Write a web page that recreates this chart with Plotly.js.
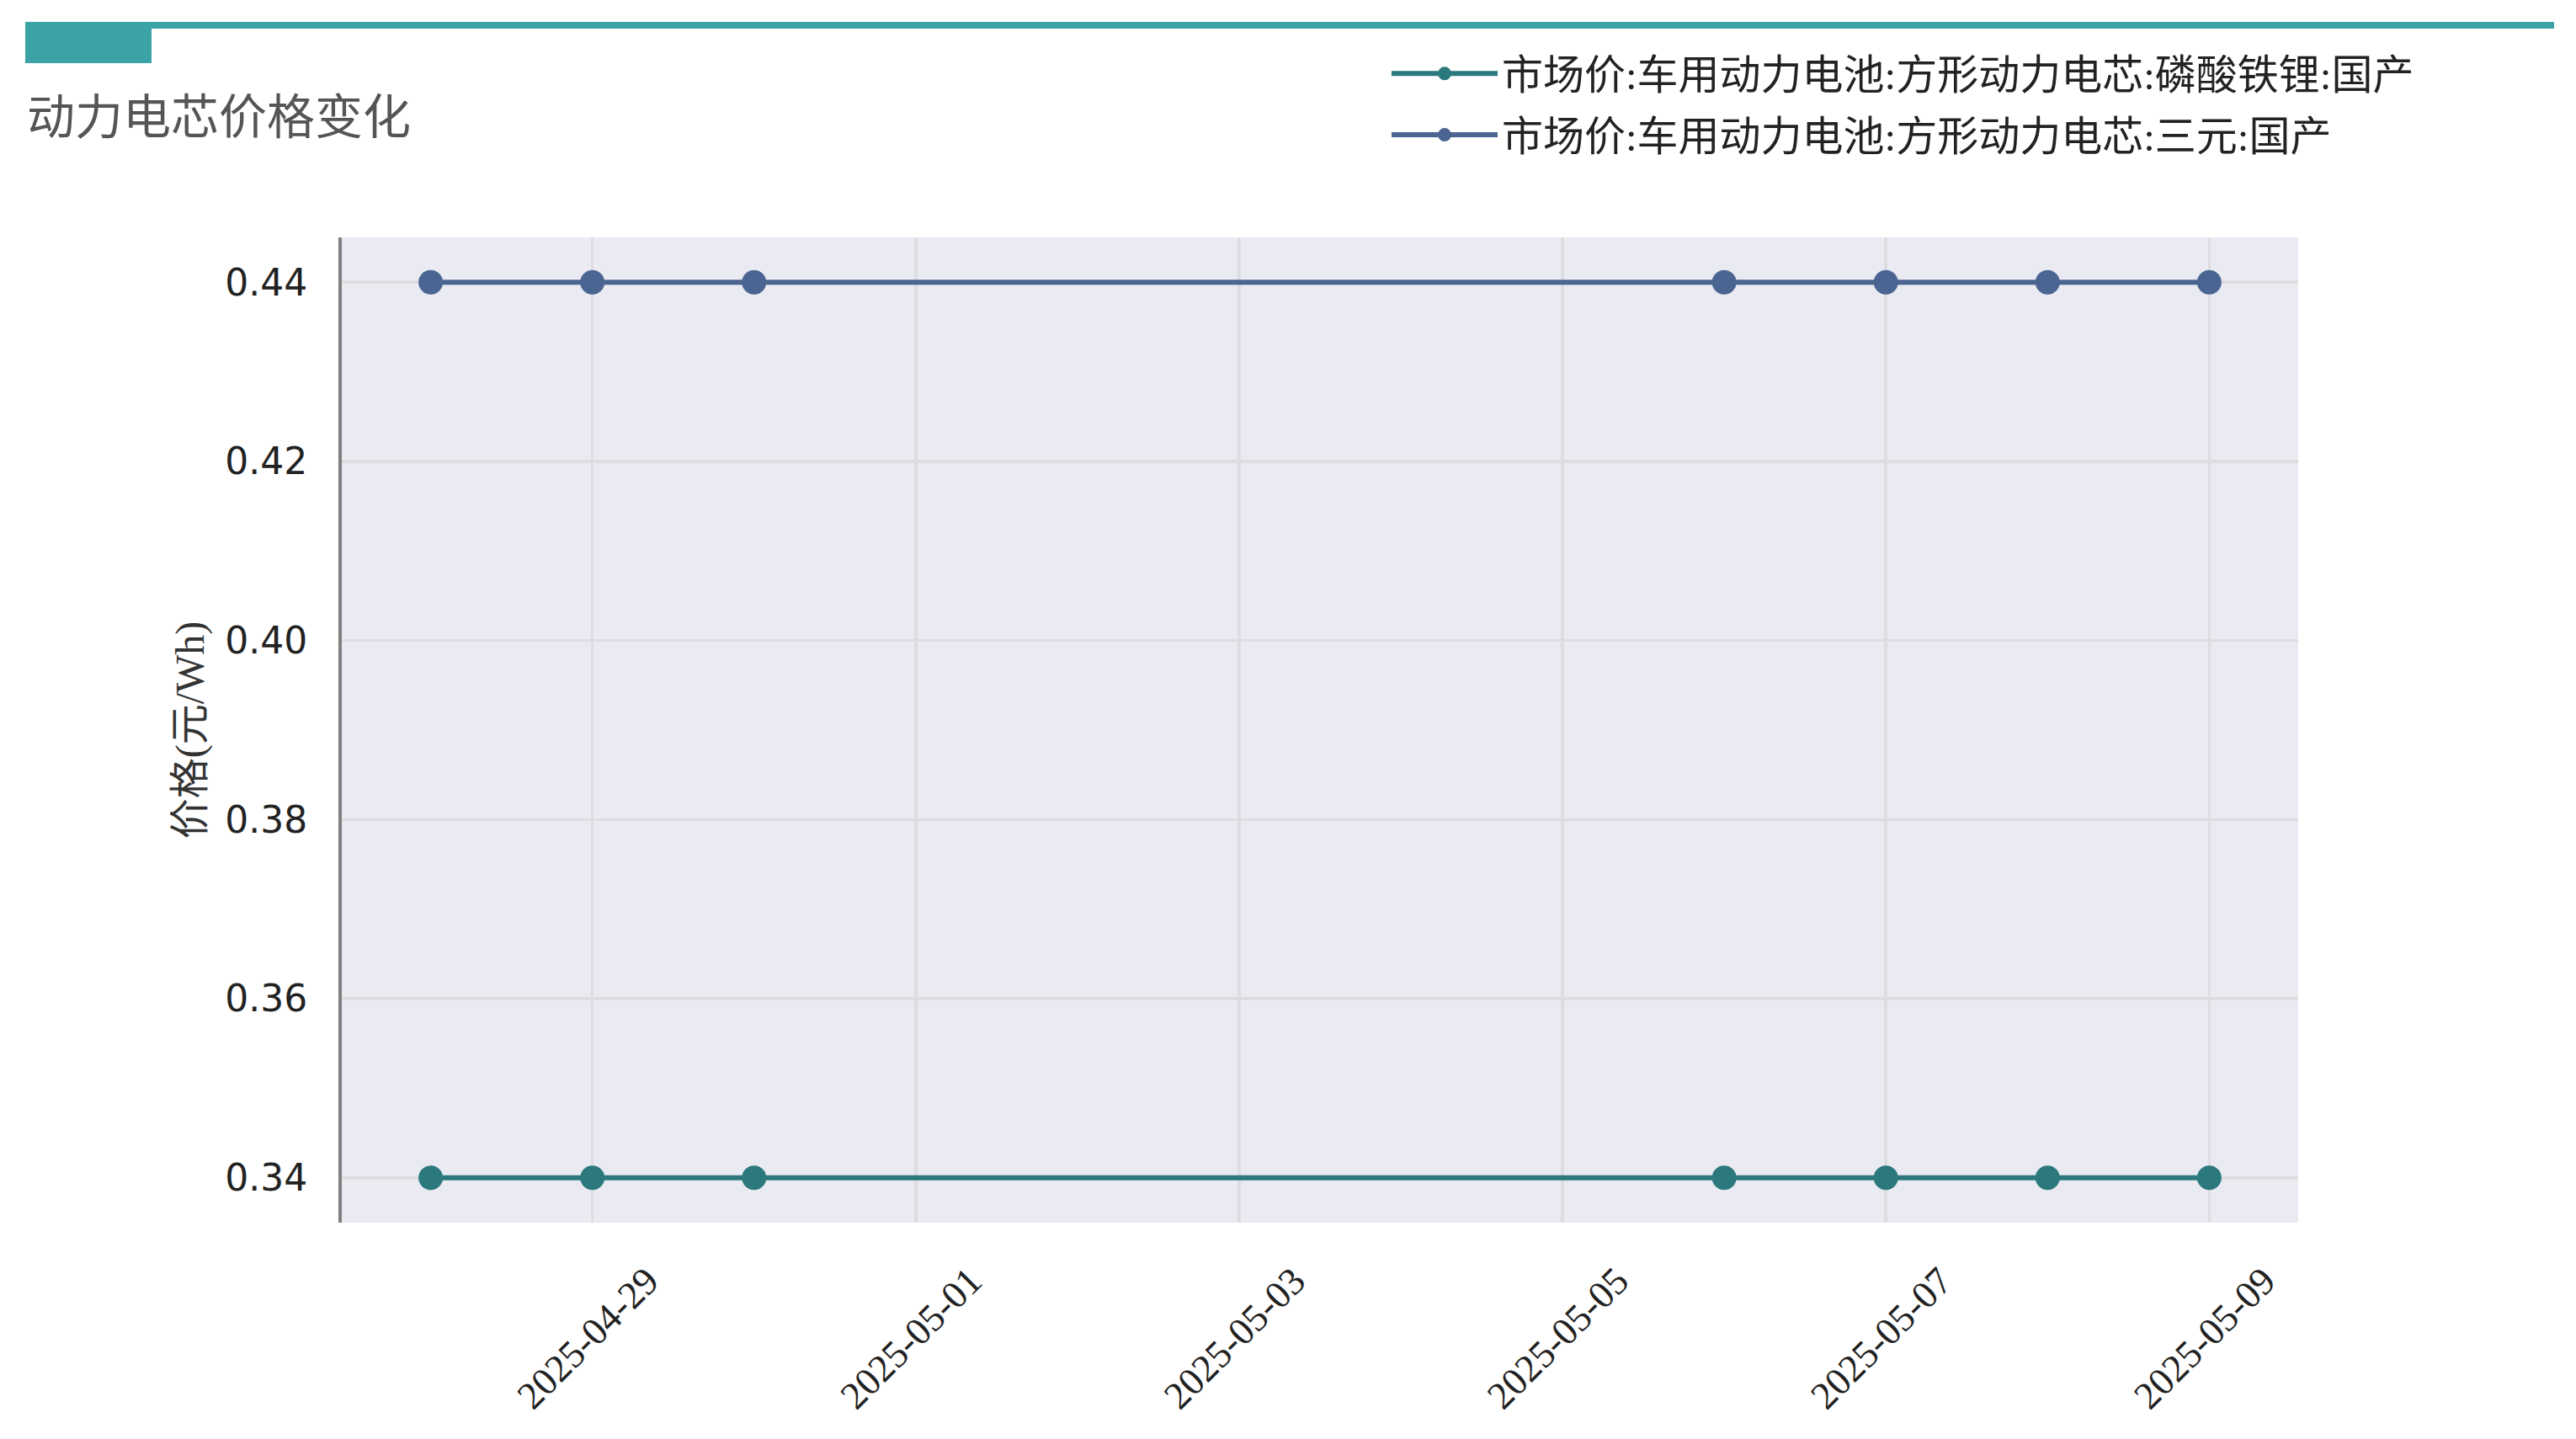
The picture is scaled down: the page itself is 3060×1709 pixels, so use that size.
<!DOCTYPE html>
<html>
<head>
<meta charset="utf-8">
<script src="https://cdn.plot.ly/plotly-3.0.1.min.js"></script>
<style>
  html, body { margin: 0; padding: 0; background: #fff; }
  #chart { width: 3060px; height: 1709px; }
</style>
</head>
<body>
<div id="chart"></div>
<script>
// data
const dates = ["2025-04-28", "2025-04-29", "2025-04-30", "2025-05-06", "2025-05-07", "2025-05-08", "2025-05-09"];
const lfpPrice = [0.34, 0.34, 0.34, 0.34, 0.34, 0.34, 0.34];
const ncmPrice = [0.44, 0.44, 0.44, 0.44, 0.44, 0.44, 0.44];
const seriesNames = ["市场价:车用动力电池:方形动力电芯:磷酸铁锂:国产", "市场价:车用动力电池:方形动力电芯:三元:国产"];
const chartTitle = "动力电芯价格变化";
const yTitle = "价格(元/Wh)";

const W = 3060, H = 1709;
const plotL = 406, plotR = 2730, plotT = 282, plotB = 1452;
const pw = plotR - plotL, ph = plotB - plotT;
// pixel -> paper helpers for the decoration shapes
const px = (x) => (x - plotL) / pw;
const py = (y) => (plotB - y) / ph;

const serifCJK = "Liberation Serif, Noto Sans CJK SC, serif";

const data = [
	{
		x: dates,
		y: lfpPrice,
		name: seriesNames[0],
		type: "scatter",
		mode: "lines+markers",
		line: { color: "#2b797c", width: 6 },
		marker: { color: "#2b797c", size: 29 },
		legendgroup: "a",
	},
	{
		x: dates,
		y: ncmPrice,
		name: seriesNames[1],
		type: "scatter",
		mode: "lines+markers",
		line: { color: "#4a6591", width: 6 },
		marker: { color: "#4a6591", size: 29 },
		legendgroup: "b",
	},
];

const layout = {
	width: W,
	height: H,
	paper_bgcolor: "#ffffff",
	plot_bgcolor: "#eaeaf2",
	margin: { l: plotL, r: W - plotR, t: plotT, b: H - plotB, autoexpand: false },
	showlegend: true,
	title: {
		text: chartTitle,
		font: { family: serifCJK, size: 57, color: "#555555" },
		xref: "container",
		yref: "container",
		x: 32 / W,
		xanchor: "left",
		y: 1 - 139 / H,
		yanchor: "middle",
	},
	legend: {
		xref: "container",
		yref: "container",
		x: 1648 / W,
		xanchor: "left",
		y: 1 - 49 / H,
		yanchor: "top",
		bgcolor: "rgba(0,0,0,0)",
		font: { family: serifCJK, size: 49, color: "#222222" },
		itemwidth: 126,
		traceorder: "grouped",
		tracegroupgap: 6,
	},
	xaxis: {
		type: "date",
		range: ["2025-04-27 10:48", "2025-05-09 13:12"],
		tick0: "2025-04-29",
		dtick: 2 * 24 * 3600 * 1000,
		tickformat: "%Y-%m-%d",
		tickangle: -45,
		tickfont: { family: "Liberation Serif, serif", size: 46, color: "#222222" },
		ticklabelshift: 65,
		ticklabelstandoff: 32,
		showgrid: true,
		gridcolor: "#dddde1",
		gridwidth: 3.5,
		zeroline: false,
		showline: false,
		ticks: "",
		fixedrange: true,
	},
	yaxis: {
		range: [0.335, 0.445],
		tickvals: [0.34, 0.36, 0.38, 0.40, 0.42, 0.44],
		tickformat: ".2f",
		tickfont: { family: "DejaVu Sans, sans-serif", size: 44, color: "#222222" },
		ticklabelstandoff: 28,
		title: {
			text: yTitle,
			font: { family: serifCJK, size: 48, color: "#333333" },
			standoff: 10,
		},
		showgrid: true,
		gridcolor: "#dddde1",
		gridwidth: 3.5,
		zeroline: false,
		showline: true,
		linecolor: "#808080",
		linewidth: 4,
		ticks: "",
		fixedrange: true,
	},
	shapes: [
		// teal rule across the top
		{
			type: "rect", xref: "paper", yref: "paper", layer: "above",
			x0: px(30), x1: px(3034), y0: py(34), y1: py(26),
			fillcolor: "#3ba3a6", line: { width: 0 },
		},
		// teal tab under the rule
		{
			type: "rect", xref: "paper", yref: "paper", layer: "above",
			x0: px(30), x1: px(180), y0: py(75), y1: py(26),
			fillcolor: "#3ba3a6", line: { width: 0 },
		},
	],
};

const config = {
	displayModeBar: false,
	staticPlot: true,
};

Plotly.newPlot("chart", data, layout, config);
</script>
</body>
</html>
